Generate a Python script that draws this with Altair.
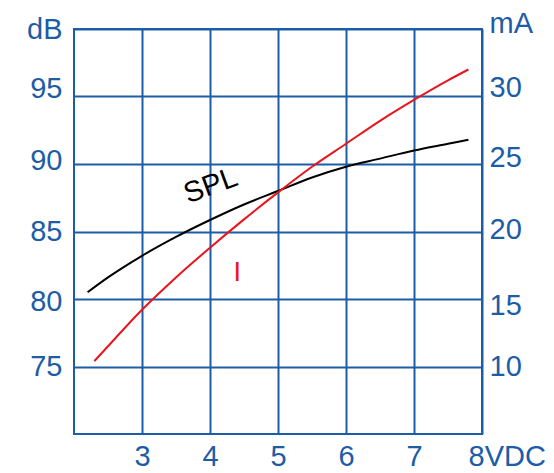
import altair as alt
import pandas as pd

# SPL curve (left axis, dB)
spl_v = [2.2, 2.5, 3.0, 3.5, 4.0, 4.5, 5.0, 5.5, 6.0, 6.5, 7.0, 7.5, 7.8]
spl_db = [80.5, 81.6, 83.2, 84.6, 85.85, 87.0, 88.0, 89.0, 89.8, 90.4, 91.0, 91.5, 91.8]

# Current curve (right axis, mA)
cur_v = [2.3, 2.5, 3.0, 3.5, 4.0, 4.5, 5.0, 5.5, 6.0, 6.5, 7.0, 7.5, 7.8]
cur_ma = [10.4, 11.5, 14.2, 16.6, 18.8, 20.9, 22.9, 24.8, 26.5, 28.2, 29.75, 31.2, 32.0]

x_ticks = [3, 4, 5, 6, 7, 8]
db_ticks = [75, 80, 85, 90, 95, 100]
ma_ticks = [10, 15, 20, 25, 30, 35]

BLUE = "#1d5ca6"
RED = "#e8141e"
FONT = "Liberation Sans"

spl_df = pd.DataFrame({"V": spl_v, "dB": spl_db})
cur_df = pd.DataFrame({"V": cur_v, "mA": cur_ma})
lbl_spl = pd.DataFrame({"V": [4.01], "dB": [88.4], "t": ["SPL"]})
lbl_i = pd.DataFrame({"V": [4.40], "mA": [16.9], "t": ["I"]})

xscale = alt.Scale(domain=[2, 8], nice=False, zero=False)
dbscale = alt.Scale(domain=[70, 100], nice=False, zero=False)
mascale = alt.Scale(domain=[5, 35], nice=False, zero=False)

xaxis = alt.Axis(
    values=x_ticks, title=None, grid=True, gridColor=BLUE, gridWidth=2, gridOpacity=1,
    domain=False, ticks=False, labelFont=FONT, labelFontSize=29, labelColor=BLUE,
    labelPadding=8,
    labelExpr="datum.value == 8 ? '8VDC' : datum.label",
    labelAlign={"condition": {"test": "datum.value == 8", "value": "left"}, "value": "center"},
    labelOffset={"condition": {"test": "datum.value == 8", "value": -14}, "value": 0},
)

dbaxis = alt.Axis(
    values=db_ticks, title=None, grid=True, gridColor=BLUE, gridWidth=2, gridOpacity=1,
    domain=False, ticks=False, labelFont=FONT, labelFontSize=29, labelColor=BLUE,
    labelPadding=12, orient="left", labelBaseline="middle",
    labelExpr="datum.value == 100 ? 'dB' : datum.label",
    labelOffset={"condition": [
        {"test": "datum.value == 95", "value": -8},
        {"test": "datum.value == 90", "value": -4},
        {"test": "datum.value == 80", "value": 2},
    ], "value": 0},
)

maaxis = alt.Axis(
    values=ma_ticks, title=None, grid=False, domain=False, ticks=False,
    labelFont=FONT, labelFontSize=29, labelColor=BLUE, labelPadding=7,
    orient="right", labelBaseline="middle",
    labelExpr="datum.value == 35 ? 'mA' : datum.label",
    labelOffset={"condition": [
        {"test": "datum.value == 35", "value": -6},
        {"test": "datum.value == 30", "value": -9},
        {"test": "datum.value == 25", "value": -7},
        {"test": "datum.value == 20", "value": -2},
        {"test": "datum.value == 15", "value": 6},
    ], "value": 0},
)

X = alt.X("V:Q", scale=xscale, axis=xaxis)

spl_line = alt.Chart(spl_df).mark_line(color="black", strokeWidth=2, interpolate="monotone").encode(
    x=X,
    y=alt.Y("dB:Q", scale=dbscale, axis=dbaxis),
)

cur_line = alt.Chart(cur_df).mark_line(color=RED, strokeWidth=2, interpolate="monotone").encode(
    x=X,
    y=alt.Y("mA:Q", scale=mascale, axis=maaxis),
)

spl_text = alt.Chart(lbl_spl).mark_text(
    color="black", font=FONT, fontSize=29, angle=340, align="center", baseline="middle"
).encode(
    x=X,
    y=alt.Y("dB:Q", scale=dbscale, axis=None),
    text="t:N",
)

i_text = alt.Chart(lbl_i).mark_text(
    color=RED, font=FONT, fontSize=27, align="center", baseline="middle"
).encode(
    x=X,
    y=alt.Y("mA:Q", scale=mascale, axis=None),
    text="t:N",
)

chart = alt.layer(spl_line, spl_text, cur_line, i_text).resolve_scale(
    y="independent"
).properties(
    width=408, height=405,
    autosize=alt.AutoSizeParams(type="none"),
    padding={"left": 66, "top": 21, "right": 64, "bottom": 38},
    view=alt.ViewConfig(stroke=BLUE, strokeWidth=2),
).configure_view(
    stroke=BLUE, strokeWidth=2
).configure(background="white")

chart.save("out.html", embed_options={"renderer": "svg", "actions": False})
